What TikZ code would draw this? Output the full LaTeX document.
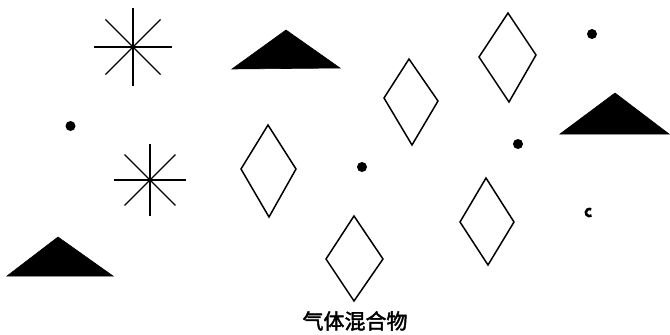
\documentclass[tikz,border=0pt]{standalone}
\usepackage{fontspec}
\newfontfamily\cjk[FakeBold=2]{Noto Sans CJK SC}
\begin{document}
\begin{tikzpicture}[x=1pt,y=-1pt,
  dia/.style={draw=black,line width=1.5pt,line join=miter},
  tri/.style={fill=black,draw=black,line width=0.6pt},
  ray/.style={draw=black,line width=1.3pt},
  dotm/.style={fill=black}]
\useasboundingbox (0,0) rectangle (670,335);
% stars
\foreach \a in {0,45,...,315} {\draw[ray] (133,47) -- ++(\a:39);}
\fill (133,47) circle (2.2);
\foreach \a in {0,45,...,315} {\draw[ray] (150,180) -- ++(\a:36);}
\fill (150,180) circle (2.2);
% triangles
\path[tri] (232,69) -- (286,30) -- (340,68) -- cycle;
\path[tri] (560,134) -- (615,93) -- (669,134) -- cycle;
\path[tri] (7,276) -- (58,237) -- (113,276) -- cycle;
% diamonds
\path[dia] (268,125) -- (296,169) -- (269,217) -- (241,169) -- cycle;
\path[dia] (409,59) -- (438,101) -- (412,145) -- (384,98) -- cycle;
\path[dia] (508,13) -- (536,55) -- (509,102) -- (479,57) -- cycle;
\path[dia] (486,178) -- (514,222) -- (488,265) -- (460,222) -- cycle;
\path[dia] (354,216) -- (383,259) -- (354,301) -- (326,259) -- cycle;
% dots
\path[dotm] (70.5,126) circle (5);
\path[dotm] (592,34) circle (5);
\path[dotm] (362,167) circle (5);
\path[dotm] (518,144) circle (5);
\draw[line width=2.6pt] (591.5,215.5) arc (55:300:3.6);
% label
\node[font=\cjk\fontsize{21}{21}\selectfont] (label) at (355,321) {气体混合物};
\end{tikzpicture}
\end{document}
